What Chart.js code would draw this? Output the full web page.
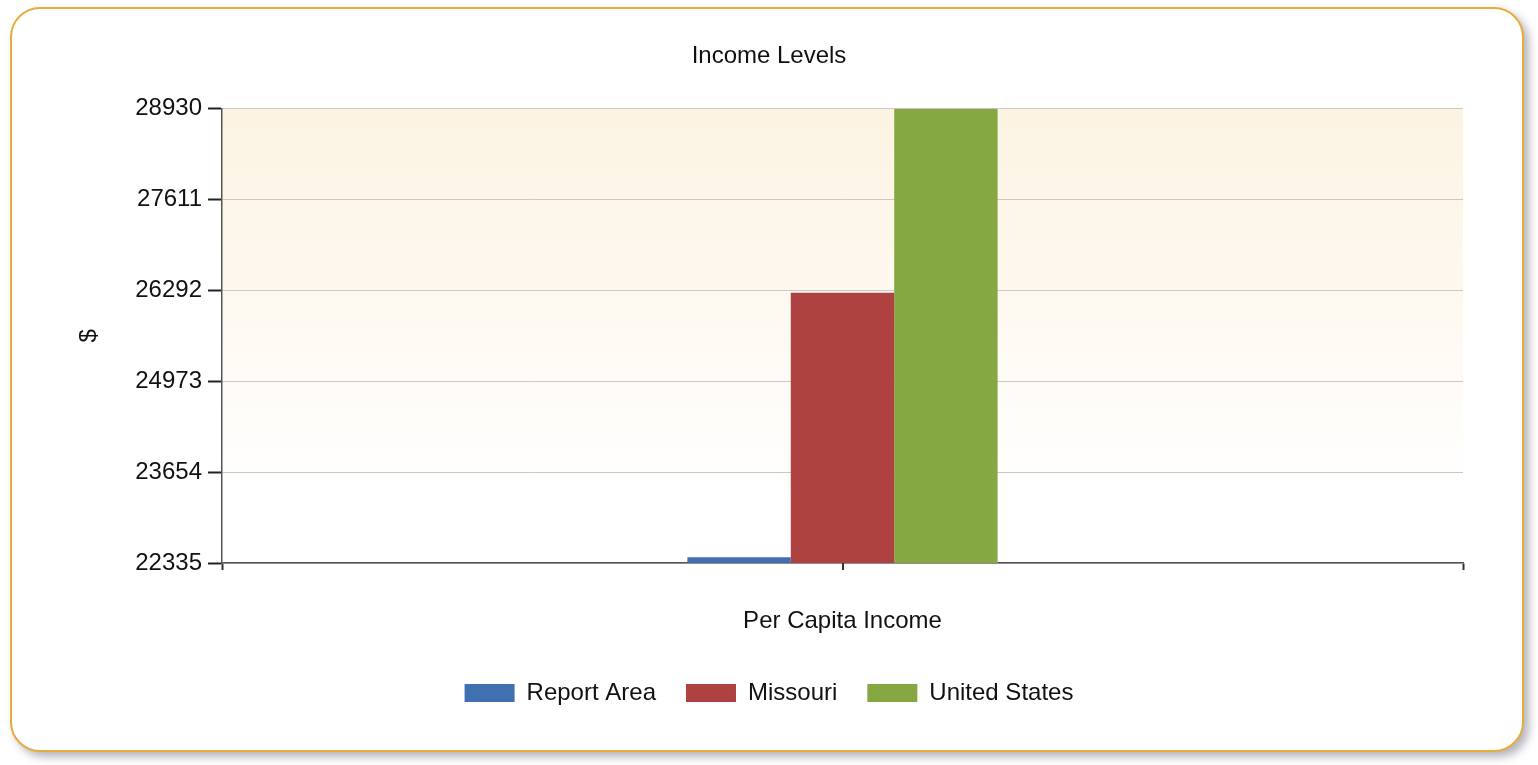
<!DOCTYPE html>
<html>
<head>
<meta charset="utf-8">
<title>Income Levels</title>
<script src="https://cdn.jsdelivr.net/npm/chart.js@4"></script>
<style>
  html, body { margin: 0; padding: 0; background: #ffffff; width: 1538px; height: 765px; overflow: hidden; }
  #frame {
    position: absolute; left: 10px; top: 7px; width: 1510px; height: 741px;
    border: 2px solid #E6AD3E; border-radius: 30px; background: #ffffff;
    box-shadow: 5px 5px 8px rgba(90, 90, 110, 0.45);
  }
  #chart { position: absolute; left: 0; top: 0; }
</style>
</head>
<body>
<div id="frame"></div>
<canvas id="chart" width="1538" height="765"></canvas>
<script>
// Per capita income, one category with three comparison areas
const categories = ['Per Capita Income'];
const seriesNames = ['Report Area', 'Missouri', 'United States'];
const reportArea = [22420];
const missouri = [26259];
const unitedStates = [28930];
const yTicks = [22335, 23654, 24973, 26292, 27611, 28930];
const seriesColors = ['#4070B0', '#AE4240', '#86A843'];

const baseFont = { family: "'Liberation Sans', Arial, sans-serif", size: 24, weight: 'normal' };

// Cream-to-white wash behind the plot area
const plotBackground = {
  id: 'plotBackground',
  beforeDraw(chart) {
    const { ctx, chartArea: a } = chart;
    const g = ctx.createLinearGradient(0, a.top, 0, a.bottom);
    g.addColorStop(0, '#FCF3E2');
    g.addColorStop(0.45, '#FEF9F1');
    g.addColorStop(0.85, '#FFFFFF');
    ctx.save();
    ctx.fillStyle = g;
    ctx.fillRect(a.left, a.top, a.right - a.left, a.bottom - a.top);
    ctx.restore();
  }
};

// Tick mark under each category centre (edge ticks come from the offset grid)
const categoryTicks = {
  id: 'categoryTicks',
  afterDatasetsDraw(chart) {
    const x = chart.scales.x;
    const ctx = chart.ctx;
    ctx.save();
    ctx.strokeStyle = '#333';
    ctx.lineWidth = 2;
    x.ticks.forEach((t, i) => {
      const px = Math.round(x.getPixelForTick(i));
      ctx.beginPath();
      ctx.moveTo(px, x.top);
      ctx.lineTo(px, x.top + 7);
      ctx.stroke();
    });
    ctx.restore();
  }
};

const seriesData = [reportArea, missouri, unitedStates];

new Chart(document.getElementById('chart'), {
  type: 'bar',
  data: {
    labels: categories,
    datasets: seriesNames.map((name, i) => ({
      label: name,
      data: seriesData[i],
      backgroundColor: seriesColors[i],
      borderWidth: 0,
      categoryPercentage: 0.25,
      barPercentage: 1.0
    }))
  },
  options: {
    responsive: false,
    animation: false,
    layout: { padding: { top: 20, left: 75, right: 75, bottom: 50 } },
    plugins: {
      title: {
        display: true,
        text: 'Income Levels',
        font: baseFont,
        color: '#111',
        padding: { top: 22, bottom: 38 }
      },
      legend: {
        position: 'bottom',
        labels: { boxWidth: 50, boxHeight: 18, padding: 30, font: baseFont, color: '#111' }
      },
      tooltip: { enabled: false }
    },
    scales: {
      x: {
        afterFit(scale) { scale.height = 88; },
        ticks: { font: baseFont, color: '#111', padding: 37 },
        grid: { display: true, drawOnChartArea: false, offset: true, tickLength: 7, tickColor: '#333', tickWidth: 2 },
        border: { color: '#555', width: 1.5 }
      },
      y: {
        min: yTicks[0],
        max: yTicks[yTicks.length - 1],
        afterBuildTicks(scale) { scale.ticks = yTicks.map(v => ({ value: v })); },
        afterFit(scale) { scale.width = 147; },
        ticks: { font: baseFont, color: '#111', padding: 6, callback: v => String(v) },
        grid: { color: '#C9C9C9', lineWidth: 1, tickLength: 14, tickColor: '#222', tickWidth: 2 },
        border: { color: '#555', width: 1.5 },
        title: { display: true, text: '$', font: baseFont, color: '#111', padding: 0 }
      }
    }
  },
  plugins: [plotBackground, categoryTicks]
});
</script>
</body>
</html>
